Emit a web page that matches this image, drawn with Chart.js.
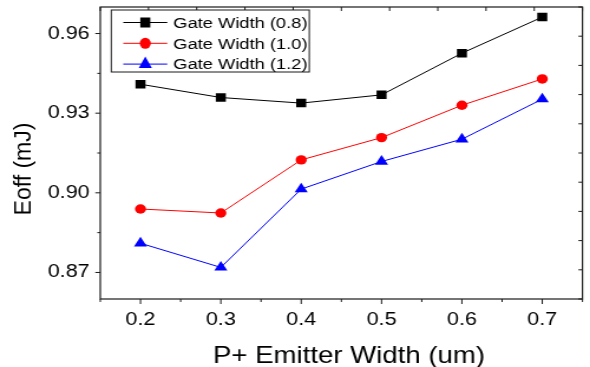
<!DOCTYPE html>
<html>
<head>
<meta charset="utf-8">
<script src="https://cdn.jsdelivr.net/npm/chart.js@4.4.1/dist/chart.umd.min.js"></script>
<style>
    html, body { margin: 0; padding: 0; background: #fff; overflow: hidden; }
    #wrap { width: 500px; height: 367px; transform: scaleX(1.18); transform-origin: 0 0; }
</style>
</head>
<body>
<div id="wrap"><canvas id="eoff-chart" width="500" height="367"></canvas></div>
<script>
const EMITTER_WIDTH = [0.2, 0.3, 0.4, 0.5, 0.6, 0.7];
const EOFF_GW08 = [0.9409, 0.9359, 0.9338, 0.9369, 0.9526, 0.9662];
const EOFF_GW10 = [0.8939, 0.8924, 0.9124, 0.9208, 0.9330, 0.9429];
const EOFF_GW12 = [0.8810, 0.8719, 0.9014, 0.9118, 0.9202, 0.9353];
const SERIES_LABELS = ["Gate Width (0.8)", "Gate Width (1.0)", "Gate Width (1.2)"];

const X_MAJOR = [0.2, 0.3, 0.4, 0.5, 0.6, 0.7];
const X_MINOR = [0.15, 0.25, 0.35, 0.45, 0.55, 0.65, 0.75];
const Y_MAJOR = [0.87, 0.90, 0.93, 0.96];
const Y_MINOR = [0.885, 0.915, 0.945];
const X_TITLE = "P+ Emitter Width (um)";
const Y_TITLE = "Eoff (mJ)";

// the canvas is drawn narrow and widened by css, so horizontal sizes are divided by this
const STRETCH = 1.18;
const FONT = "'Liberation Sans', Arial, sans-serif";

function series(label, values, color, style, radius) {
    return {
        label: label,
        data: EMITTER_WIDTH.map((x, i) => ({x: x, y: values[i]})),
        borderColor: color,
        backgroundColor: color,
        borderWidth: 1,
        pointStyle: style,
        pointRadius: radius,
        pointBorderWidth: 0,
        tension: 0
    };
}

const datasets = [
    series(SERIES_LABELS[0], EOFF_GW08, "#000000", "rect", 6),
    series(SERIES_LABELS[1], EOFF_GW10, "#ff0000", "circle", 4.7),
    series(SERIES_LABELS[2], EOFF_GW12, "#0000ff", "triangle", 6.4)
];

function drawMarker(ctx, style, x, y, r) {
    ctx.beginPath();
    if (style === "rect") {
        const s = r * Math.SQRT1_2;
        ctx.rect(x - s, y - s, 2 * s, 2 * s);
    } else if (style === "circle") {
        ctx.arc(x, y, r, 0, Math.PI * 2);
    } else {
        ctx.moveTo(x, y - r);
        ctx.lineTo(x + r * 0.866, y + r / 2);
        ctx.lineTo(x - r * 0.866, y + r / 2);
        ctx.closePath();
    }
    ctx.fill();
}

const framePlugin = {
    id: "frameAndLegend",
    afterDraw(chart) {
        const {ctx, chartArea: a, scales} = chart;
        ctx.save();
        ctx.strokeStyle = "#1a1a1a";
        ctx.lineWidth = 1.2;
        ctx.strokeRect(a.left, a.top, a.right - a.left, a.bottom - a.top);

        const line = (x1, y1, x2, y2) => {
            ctx.beginPath();
            ctx.moveTo(x1, y1);
            ctx.lineTo(x2, y2);
            ctx.stroke();
        };
        ctx.lineWidth = 1;
        // outer ticks on the bottom and left axes
        X_MAJOR.forEach(v => { const x = scales.x.getPixelForValue(v); line(x, a.bottom, x, a.bottom + 5); });
        X_MINOR.forEach(v => { const x = scales.x.getPixelForValue(v); line(x, a.bottom, x, a.bottom + 3); });
        Y_MAJOR.forEach(v => { const y = scales.y.getPixelForValue(v); line(a.left - 5 / STRETCH, y, a.left, y); });
        Y_MINOR.forEach(v => { const y = scales.y.getPixelForValue(v); line(a.left - 3 / STRETCH, y, a.left, y); });
        // inner ticks on the mirrored top and right axes
        scales.x2.ticks.forEach(t => { const x = scales.x2.getPixelForValue(t.value); line(x, a.top, x, a.top + 4); });
        scales.y2.ticks.forEach(t => { const y = scales.y2.getPixelForValue(t.value); line(a.right - 4 / STRETCH, y, a.right, y); });

        // legend box
        const boxL = a.left + 11 / STRETCH, boxR = a.left + 209 / STRETCH;
        const boxT = a.top + 3, boxB = a.top + 65;
        ctx.fillStyle = "#fff";
        ctx.fillRect(boxL, boxT, boxR - boxL, boxB - boxT);
        ctx.strokeStyle = "#1a1a1a";
        ctx.strokeRect(boxL, boxT, boxR - boxL, boxB - boxT);
        ctx.font = "15.5px " + FONT;
        ctx.textBaseline = "middle";
        ctx.textAlign = "left";
        chart.data.datasets.forEach((ds, i) => {
            const y = a.top + 15.5 + i * 20.8;
            const x0 = boxL + 12 / STRETCH, xe = boxL + 56 / STRETCH;
            ctx.strokeStyle = ds.borderColor;
            ctx.lineWidth = 1;
            line(x0, y, xe, y);
            ctx.fillStyle = ds.backgroundColor;
            ctx.save();
            ctx.translate((x0 + xe) / 2, y);
            ctx.scale(1 / STRETCH, 1);
            drawMarker(ctx, ds.pointStyle, 0, 0, ds.pointRadius * STRETCH);
            ctx.restore();
            ctx.fillStyle = "#000";
            ctx.fillText(ds.label, boxL + 62 / STRETCH, y + 1);
        });

        // axis titles
        ctx.fillStyle = "#000";
        ctx.font = "23.4px " + FONT;
        ctx.textAlign = "center";
        ctx.textBaseline = "alphabetic";
        ctx.fillText(X_TITLE, 349 / STRETCH, 363);

        ctx.save();
        ctx.translate(30.7 / STRETCH, 169);
        ctx.scale(1 / STRETCH, 1);
        ctx.rotate(-Math.PI / 2);
        ctx.font = "23px " + FONT;
        ctx.fillText(Y_TITLE, 0, 0);
        ctx.restore();
        ctx.restore();
    }
};

const tickFont = {family: FONT, size: 18.3};

new Chart(document.getElementById("eoff-chart"), {
    type: "line",
    data: {datasets: datasets},
    options: {
        responsive: false,
        animation: false,
        layout: {padding: 0},
        plugins: {legend: {display: false}, tooltip: {enabled: false}},
        scales: {
            x: {
                type: "linear",
                position: "bottom",
                min: 0.15,
                max: 0.75,
                afterBuildTicks: s => { s.ticks = X_MAJOR.map(v => ({value: v})); },
                afterFit: s => { s.height = 68; s.paddingLeft = 0; s.paddingRight = 0; },
                grid: {display: false, drawTicks: false},
                border: {display: false},
                ticks: {autoSkip: false, maxRotation: 0, padding: 10, color: "#000", font: tickFont,
                    callback: v => Number(v).toFixed(1)}
            },
            x2: {
                type: "linear",
                position: "top",
                min: 0,
                max: 10,
                afterFit: s => { s.height = 7; s.paddingLeft = 0; s.paddingRight = 0; },
                grid: {display: false, drawTicks: false},
                border: {display: false},
                ticks: {display: false, stepSize: 1}
            },
            y: {
                type: "linear",
                position: "left",
                min: 0.86,
                max: 0.97,
                afterBuildTicks: s => { s.ticks = Y_MAJOR.map(v => ({value: v})); },
                afterFit: s => { s.width = 85; s.paddingTop = 0; s.paddingBottom = 0; },
                grid: {display: false, drawTicks: false},
                border: {display: false},
                ticks: {autoSkip: false, padding: 9, color: "#000", font: tickFont,
                    callback: v => Number(v).toFixed(2)}
            },
            y2: {
                type: "linear",
                position: "right",
                min: 0,
                max: 10,
                afterFit: s => { s.width = 3.4; s.paddingTop = 0; s.paddingBottom = 0; },
                grid: {display: false, drawTicks: false},
                border: {display: false},
                ticks: {display: false, stepSize: 1}
            }
        }
    },
    plugins: [framePlugin]
});
</script>
</body>
</html>
